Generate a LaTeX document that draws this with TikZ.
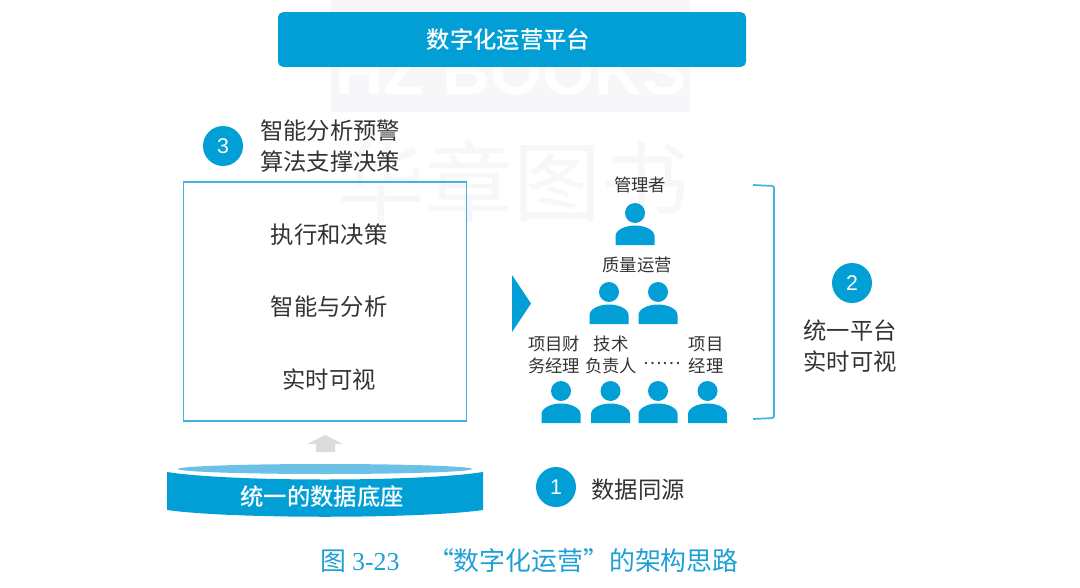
\documentclass[tikz,border=0pt]{standalone}
\usepackage{fontspec}
\setmainfont{Noto Sans CJK SC}
\newfontfamily\cjkmed{Noto Sans CJK SC Medium}
\newfontfamily\latinnum{Liberation Sans}
\newfontfamily\latinserif{Liberation Serif}
\definecolor{mainblue}{HTML}{019FD6}
\definecolor{lineblue}{HTML}{40B2E3}
\definecolor{lightblue}{HTML}{6CC1E6}
\definecolor{capblue}{HTML}{1E9FD6}
\definecolor{inkgray}{HTML}{333333}
\definecolor{wmgray}{HTML}{F7F7FA}
\tikzset{
  every node/.style={inner sep=0pt,outer sep=0pt,align=center},
  bigtext/.style={font=\fontsize{17.5pt}{23pt}\selectfont,text=inkgray},
  smalltext/.style={font=\fontsize{13pt}{16.5pt}\selectfont,text=inkgray},
  whitetext/.style={font=\fontsize{17.5pt}{20pt}\selectfont\cjkmed,text=white},
  badge/.style={circle,fill=mainblue,minimum size=30pt,text=white,font=\fontsize{16pt}{16pt}\selectfont\latinnum},
  person/.pic={
    \fill[mainblue] (0,-32) circle (10);
    \fill[mainblue] (-19.5,0) -- (-19.5,-9) .. controls (-19.5,-15) and (-10,-19.5) .. (0,-19.5)
      .. controls (10,-19.5) and (19.5,-15) .. (19.5,-9) -- (19.5,0) -- cycle;
  }
}
\begin{document}
\begin{tikzpicture}[x=0.75pt,y=-0.75pt]
\useasboundingbox (0,0) rectangle (1080,588);
% watermark
\fill[wmgray] (331,0) rectangle (690,112);
\node[font=\fontsize{50pt}{50pt}\selectfont\bfseries\latinnum,text=white] (wm1) at (511,72) {HZ BOOKS};
\node[font=\fontsize{66pt}{66pt}\selectfont,text=wmgray] (wm2) at (513,181) {华章图书};
% platform
\node[fill=mainblue,rounded corners=3.75pt,minimum width=351pt,minimum height=41pt] (platform) at (512,39.5) {};
\node[whitetext] (platformtext) at (508.5,39.5) {数字化运营平台};
% goal 3
\node[badge] (b3) at (223,146) {3};
\node[bigtext,align=left,anchor=west] (t3) at (260,146) {智能分析预警\\算法支撑决策};
% box
\node[draw=lineblue,line width=1.1pt,minimum width=212.5pt,minimum height=179pt] (box) at (325,301.5) {};
\node[bigtext] (l1) at (329,235) {执行和决策};
\node[bigtext] (l2) at (329,307) {智能与分析};
\node[bigtext] (l3) at (329,380) {实时可视};
% gray arrow
\fill[black!14] (325,435) -- (343,444) -- (335,444) -- (335,452) -- (316,452) -- (316,444) -- (307,444) -- cycle;
% base
\fill[mainblue] (167,472) .. controls (230,482) and (420,482) .. (483,472) -- (483,510)
  .. controls (420,519) and (230,519) .. (167,510) -- cycle;
\fill[lightblue] (325,469) ellipse (147 and 5);
\node[whitetext] (base) at (322,497) {统一的数据底座};
% triangle
\fill[mainblue] (512,275) -- (531,303.5) -- (512,332) -- cycle;
% people
\node[smalltext] (m) at (640,185) {管理者};
\pic at (635,245) {person};
\node[smalltext] (q) at (637,265) {质量运营};
\pic at (609,324) {person};
\pic at (658,324) {person};
\node[smalltext] (p1) at (554,355) {项目财\\务经理};
\node[smalltext] (p2) at (611,355) {技术\\负责人};
\node[smalltext] (p3) at (662,364) {……};
\node[smalltext] (p4) at (706,355) {项目\\经理};
\pic at (561,423) {person};
\pic at (610.5,423) {person};
\pic at (658,423) {person};
\pic at (707.5,423) {person};
% bracket
\draw[lineblue,line width=1.3pt,rounded corners=1.5pt] (753,185) -- (774,186) -- (774,418) -- (753,419);
% goal 2
\node[badge] (b2) at (852,283) {2};
\node[bigtext] (t2) at (850,346) {统一平台\\实时可视};
% goal 1
\node[badge] (b1) at (556,487) {1};
\node[bigtext] (t1) at (638,490) {数据同源};
% caption
\node[font=\fontsize{19.4pt}{20pt}\selectfont,text=capblue] (cap) at (529.5,561) {图 {\latinserif 3-23}\hspace{1.1em}“数字化运营”的架构思路};
\end{tikzpicture}
\end{document}
